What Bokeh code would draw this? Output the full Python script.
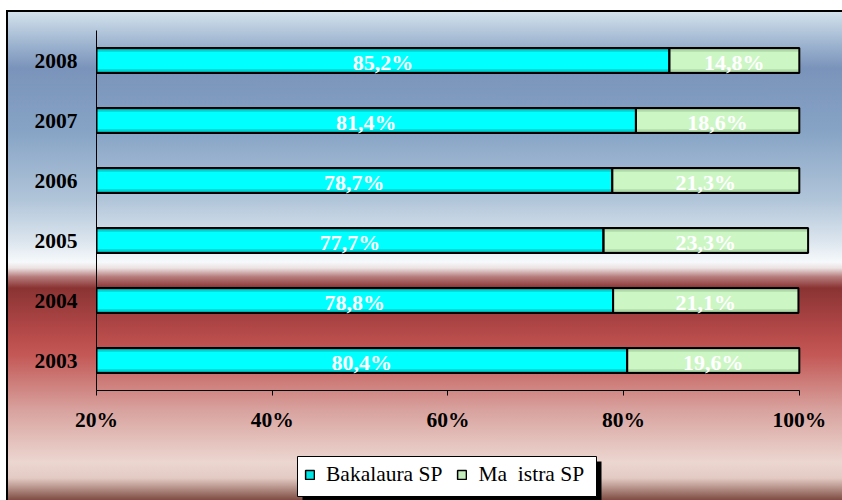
from bokeh.plotting import figure
from bokeh.layouts import column
from bokeh.models import (ColumnDataSource, FactorRange, Range1d, LabelSet, Legend,
                          LegendItem, FixedTicker, BoxAnnotation)
from bokeh.embed import file_html
from bokeh.resources import INLINE

# ---- data ----
years = ["2003", "2004", "2005", "2006", "2007", "2008"]
bakalaura = [80.4, 78.8, 77.7, 78.7, 81.4, 85.2]
magistra = [19.6, 21.1, 23.3, 21.3, 18.6, 14.8]
x_ticks = [20, 40, 60, 80, 100]
x_tick_labels = ["20%", "40%", "60%", "80%", "100%"]
series_names = ["Bakalaura SP", "Ma  istra SP"]

AX_MIN, AX_MAX = 20, 101.5


def fmt(v):
    return f"{v:.1f}".replace(".", ",") + "%"


mag_end = [b + m for b, m in zip(bakalaura, magistra)]
src = ColumnDataSource(dict(
    year=years,
    b0=[0] * len(years),
    b1=bakalaura,
    m1=mag_end,
    bc=[(max(AX_MIN, 0) + b) / 2 for b in bakalaura],
    mc=[(b + e) / 2 for b, e in zip(bakalaura, mag_end)],
    bl=[fmt(v) for v in bakalaura],
    ml=[fmt(v) for v in magistra],
))

W, H1, H2 = 842, 440, 60
BL, BR = 96, 30
p = figure(y_range=FactorRange(*years), x_range=Range1d(AX_MIN, AX_MAX),
           width=W, height=H1, output_backend="svg", toolbar_location=None,
           min_border_left=BL, min_border_right=BR, min_border_top=30, min_border_bottom=50)
p.background_fill_alpha = 0
p.border_fill_alpha = 0
p.outline_line_color = None
p.grid.visible = False

BH = 0.42
cyan_layers = [(BH, "#007a7a"), (0.385, "#00b0b0"), (0.34, "#00dede"), (0.28, "#00ffff")]
green_layers = [(BH, "#5f7f5c"), (0.385, "#98be92"), (0.34, "#b8e2b0"), (0.28, "#cdf6c5")]
for h, c in cyan_layers:
    p.hbar(y="year", left="b0", right="b1", height=h, fill_color=c, line_color=None, source=src)
for h, c in green_layers:
    p.hbar(y="year", left="b1", right="m1", height=h, fill_color=c, line_color=None, source=src)
p.hbar(y="year", left="b0", right="b1", height=BH, fill_color=None, line_color="black",
       line_width=2, source=src)
p.hbar(y="year", left="b1", right="m1", height=BH, fill_color=None, line_color="black",
       line_width=2, source=src)

lab_font = "Liberation Serif"
for xcol, tcol in (("bc", "bl"), ("mc", "ml")):
    p.add_layout(LabelSet(x=xcol, y="year", text=tcol, source=src, text_align="center",
                          text_baseline="middle", y_offset=-2, text_color="white",
                          text_font=lab_font, text_font_style="bold", text_font_size="22px"))

xa = p.xaxis[0]
xa.ticker = FixedTicker(ticks=x_ticks)
xa.major_label_overrides = {t: l for t, l in zip(x_ticks, x_tick_labels)}
xa.bounds = (x_ticks[0], x_ticks[-1])
xa.minor_tick_line_color = None
xa.major_tick_in = 0
xa.major_tick_out = 5
xa.major_label_standoff = 12
ya = p.yaxis[0]
ya.major_tick_in = 0
ya.major_tick_out = 0
ya.minor_tick_line_color = None
ya.major_label_standoff = 19
for ax in (xa, ya):
    ax.axis_line_color = "black"
    ax.axis_line_width = 1
    ax.major_tick_line_color = "black"
    ax.major_label_text_font = lab_font
    ax.major_label_text_font_style = "bold"
    ax.major_label_text_font_size = "21.5px"
    ax.major_label_text_color = "black"

# ---- legend strip (its frame is aligned with the main frame by the column) ----
lg = figure(width=W, height=H2, x_range=Range1d(BL, W - BR), y_range=Range1d(0, H2),
            output_backend="svg", toolbar_location=None,
            min_border_left=BL, min_border_right=BR, min_border_top=0, min_border_bottom=0)
lg.axis.visible = False
lg.grid.visible = False
lg.outline_line_color = None
lg.background_fill_alpha = 0
lg.border_fill_alpha = 0

bx = dict(left=297, right=596, top=44, bottom=4)
lg.add_layout(BoxAnnotation(left=bx["left"] + 5, right=bx["right"] + 5, top=bx["top"] - 5,
                            bottom=bx["bottom"] - 5, fill_color="black", fill_alpha=1,
                            line_color=None))
lg.add_layout(BoxAnnotation(left=bx["left"], right=bx["right"], top=bx["top"],
                            bottom=bx["bottom"], fill_color="white", fill_alpha=1,
                            line_color="black", line_width=1, line_alpha=1))

leg_b = lg.rect(x="b1", y="b1", width=1, height=1, fill_color="#00e6e6", line_color="black",
                line_width=1.5, source=src, visible=False)
leg_m = lg.rect(x="m1", y="m1", width=1, height=1, fill_color="#c4ecbc", line_color="black",
                line_width=1.5, source=src, visible=False)
legend = Legend(items=[LegendItem(label=series_names[0], renderers=[leg_b]),
                       LegendItem(label=series_names[1], renderers=[leg_m])],
                orientation="horizontal", location=(bx["left"] + 7 - BL, bx["bottom"] + 9),
                margin=0, padding=8, spacing=14, label_standoff=11, glyph_width=11,
                glyph_height=11, label_text_font=lab_font, label_text_font_size="21.5px",
                label_text_color="black", background_fill_alpha=0, border_line_color=None)
lg.add_layout(legend)

grad_top = "linear-gradient(to bottom, #ffffff 0px, #ffffff 10px, rgba(255,255,255,0) 10px)"
grad_left = ("linear-gradient(to right, #ffffff 0px, #ffffff 6px, #000000 6px, #000000 8px, "
             "rgba(0,0,0,0) 8px)")
grad_main = ("linear-gradient(to bottom, #ffffff 0px, #ffffff 10px, #000000 10px, #000000 12px, "
             "#d3e1eb 12px, #9cb3cf 45px, #7a93ba 68px, #86a3c5 130px, #b1c5d9 200px, "
             "#dae4ed 240px, #f6f9fb 262px, #ece2e2 268px, #b57a7a 277px, #8a3333 288px, "
             "#b34848 330px, #c35856 355px, #d8a29e 410px, #ecd6d0 462px, #e3cbc4 478px, "
             "#7e4c42 500px)")
layout = column(p, lg, spacing=0)
layout.styles = {"background": f"{grad_top}, {grad_left}, {grad_main}"}

open("out.html", "w").write(file_html(layout, INLINE))
